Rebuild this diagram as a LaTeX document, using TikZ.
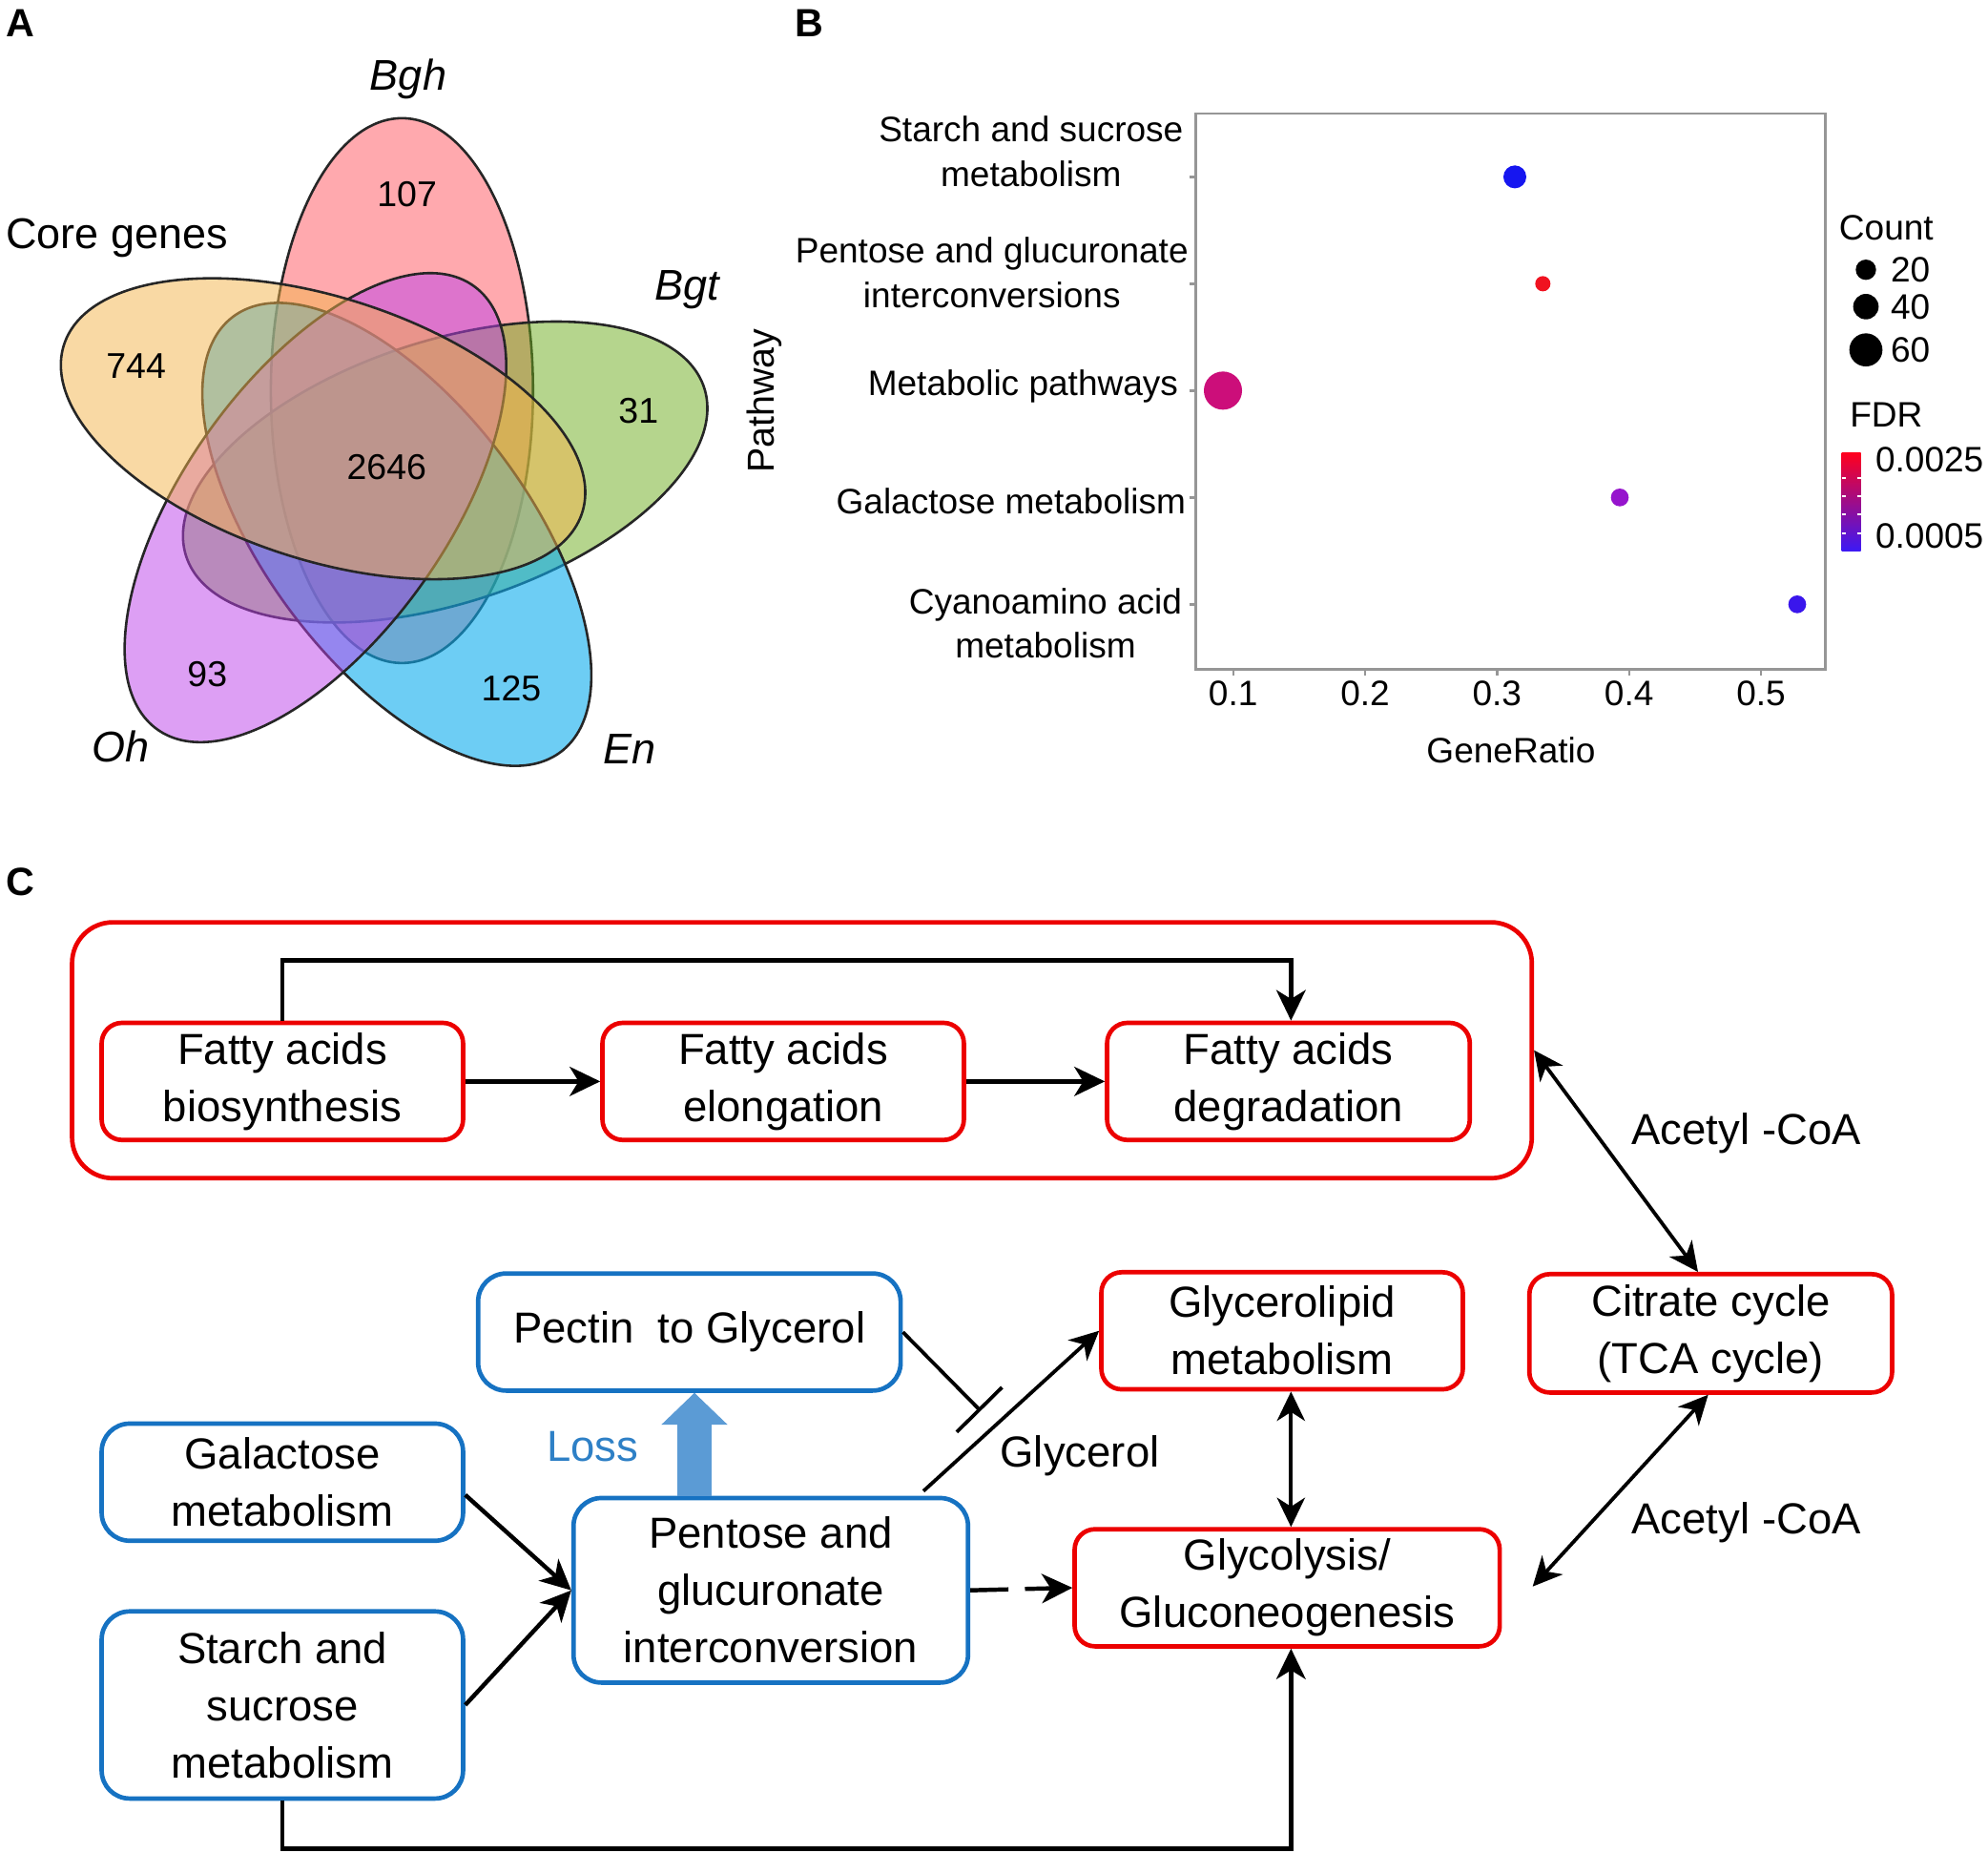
\documentclass[tikz,border=0pt]{standalone}
\usepackage{fontspec}
\setmainfont{Liberation Sans}
\usetikzlibrary{shapes,arrows,positioning,calc,arrows.meta}

\definecolor{boxred}{RGB}{236,0,0}
\definecolor{boxblue}{RGB}{22,114,194}
\definecolor{lossblue}{RGB}{91,155,213}
\definecolor{losstext}{RGB}{46,128,198}
\definecolor{vorange}{RGB}{245,181,75}
\definecolor{vpink}{RGB}{255,85,95}
\definecolor{vgreen}{RGB}{109,173,29}
\definecolor{vblue}{RGB}{13,172,238}
\definecolor{vpurple}{RGB}{189,65,235}
\definecolor{ptblue}{RGB}{22,22,240}
\definecolor{ptred}{RGB}{240,18,32}
\definecolor{ptmagenta}{RGB}{204,14,122}
\definecolor{ptpurple}{RGB}{150,20,205}
\definecolor{ptviolet}{RGB}{58,22,236}
\definecolor{framegray}{RGB}{150,150,150}
\definecolor{fdrtop}{RGB}{255,0,30}
\definecolor{fdrmid}{RGB}{205,0,130}
\definecolor{fdrbot}{RGB}{60,25,245}

\newcommand{\boxfont}{\fontsize{9.7}{12.8}\selectfont}
\newcommand{\plotfont}{\fontsize{7.9}{9.96}\selectfont}
\newcommand{\vennfont}{\fontsize{9.6}{11.5}\selectfont}
\newcommand{\numfont}{\fontsize{8}{9.6}\selectfont}
\newcommand{\panelfont}{\fontsize{8.8}{10}\selectfont\bfseries}

\tikzset{
    panel/.style={font=\panelfont, inner sep=0pt},
    redbox/.style={draw=boxred, line width=1pt, rounded corners=1.6mm, align=center, font=\boxfont, inner sep=0pt},
    bluebox/.style={draw=boxblue, line width=1pt, rounded corners=2.2mm, align=center, font=\boxfont, inner sep=0pt},
    arr/.style={-{Stealth[length=2.4mm, width=2.3mm, inset=0.7mm]}, line width=0.95pt},
    thinarr/.style={-{Stealth[length=2.3mm, width=2.2mm, inset=0.7mm]}, line width=0.8pt},
    dblarr/.style={{Stealth[length=2.3mm, width=2.2mm, inset=0.7mm]}-{Stealth[length=2.3mm, width=2.2mm, inset=0.7mm]}, line width=0.8pt},
    inhib/.style={-{Bar[width=5mm]}, line width=0.8pt},
    lossarr/.style={draw=lossblue, line width=2.7mm, -{Triangle[length=2.5mm, width=5.2mm, line width=0pt]}},
    venn/.style={draw=black!85, line width=0.55pt, fill opacity=0.5},
    vname/.style={font=\vennfont\itshape},
    vnum/.style={font=\numfont},
    plotlab/.style={font=\plotfont, align=center, inner sep=0pt},
    axtick/.style={draw=framegray, line width=0.5pt},
}

\begin{document}
\begin{tikzpicture}[x=0.01cm, y=-0.01cm, node distance=0cm]
    \useasboundingbox (0,0) rectangle (1563,1456);
    \fill[white] (0,0) rectangle (1563,1456);

    % panel letters
    \node[panel] (pa) at (16,18) {A};
    \node[panel] (pb) at (636,18) {B};
    \node[panel] (pc) at (16,693) {C};

    % A: five-set Venn
    \path[venn, fill=vpink, rotate around={-90:(316,307)}] (316,307) ellipse [x radius=2.14cm, y radius=1.03cm];
    \path[venn, fill=vgreen, rotate around={18:(350,371)}] (350,371) ellipse [x radius=2.14cm, y radius=1.03cm];
    \path[venn, fill=vblue, fill opacity=0.6, rotate around={-53:(312,420)}] (312,420) ellipse [x radius=2.14cm, y radius=1.03cm];
    \path[venn, fill=vpurple, rotate around={-125.5:(248,399)}] (248,399) ellipse [x radius=2.14cm, y radius=1.03cm];
    \path[venn, fill=vorange, rotate around={-18:(254,337)}] (254,337) ellipse [x radius=2.14cm, y radius=1.03cm];

    \node[vname] (bgh) at (321,62) {Bgh};
    \node[font=\vennfont] (core) at (92,187) {Core genes};
    \node[vname] (bgt) at (540,228) {Bgt};
    \node[vname] (oh) at (95,587) {Oh};
    \node[vname] (en) at (495,589) {En};

    \node[vnum] (n744) at (107,288) {744};
    \node[vnum] (n107) at (320,153) {107};
    \node[vnum] (n31) at (502,323) {31};
    \node[vnum] (n2646) at (304,367) {2646};
    \node[vnum] (n93) at (163,530) {93};
    \node[vnum] (n125) at (402,541) {125};

    % B: dot plot
    \draw[framegray, line width=0.5pt] (940,89) rectangle (1435,526);
    \foreach \yy in {139,223,307,391,475} {
        \draw[axtick] (935,\yy) -- (940,\yy);
    }
    \foreach \xx in {969.5,1073.25,1177,1280.75,1384.5} {
        \draw[axtick] (\xx,526) -- (\xx,531);
    }

    \node[plotlab, anchor=east] (ystarch) at (931,119) {Starch and sucrose\\metabolism};
    \node[plotlab, anchor=east] (ypentose) at (935,214.5) {Pentose and glucuronate\\interconversions};
    \node[plotlab, anchor=east] (ymetab) at (927,304) {Metabolic pathways};
    \node[plotlab, anchor=east] (ygalac) at (933,394) {Galactose metabolism};
    \node[plotlab, anchor=east] (ycyano) at (930,490) {Cyanoamino acid\\metabolism};

    \node[plotlab] (x1) at (969.5,545) {0.1};
    \node[plotlab] (x2) at (1073.25,545) {0.2};
    \node[plotlab] (x3) at (1177,545) {0.3};
    \node[plotlab] (x4) at (1280.75,545) {0.4};
    \node[plotlab] (x5) at (1384.5,545) {0.5};
    \node[plotlab] (xtitle) at (1188,590) {GeneRatio};
    \node[plotlab, rotate=90, font=\fontsize{8.4}{10}\selectfont] (ytitle) at (601,315) {Pathway};

    \fill[ptblue] (1191,139) circle[radius=0.9mm];
    \fill[ptred] (1213,223) circle[radius=0.6mm];
    \fill[ptmagenta] (961.5,307) circle[radius=1.5mm];
    \fill[ptpurple] (1273.5,391) circle[radius=0.7mm];
    \fill[ptviolet] (1413,475) circle[radius=0.7mm];

    % legend
    \node[plotlab] (count) at (1483,179) {Count};
    \fill[black] (1467,212) circle[radius=0.8mm];
    \fill[black] (1467,241) circle[radius=1.0mm];
    \fill[black] (1467,275) circle[radius=1.3mm];
    \node[plotlab] (c20) at (1502,212) {20};
    \node[plotlab] (c40) at (1502,241) {40};
    \node[plotlab] (c60) at (1502,275) {60};

    \node[plotlab] (fdr) at (1483,326) {FDR};
    \shade[top color=fdrtop, middle color=fdrmid, bottom color=fdrbot] (1448,356) rectangle (1463,433);
    \foreach \yy in {376,390,404.5,419} {
        \draw[white, line width=0.4pt] (1448,\yy) -- (1451,\yy);
        \draw[white, line width=0.4pt] (1460,\yy) -- (1463,\yy);
    }
    \node[plotlab] (f25) at (1517,361) {0.0025};
    \node[plotlab] (f05) at (1517,421) {0.0005};

    % C: pathway scheme
    \node[draw=boxred, line width=1pt, rounded corners=3.2mm, minimum width=11.47cm, minimum height=2.01cm] (fatty) at (630.5,825.5) {};
    \node[redbox, minimum width=2.84cm, minimum height=0.92cm] (fab) at (222,850) {Fatty acids\\biosynthesis};
    \node[redbox, minimum width=2.84cm, minimum height=0.92cm, right=1.06cm of fab] (fae) {Fatty acids\\elongation};
    \node[redbox, minimum width=2.85cm, minimum height=0.92cm, right=1.09cm of fae] (fad) {Fatty acids\\degradation};

    \node[redbox, minimum width=2.84cm, minimum height=0.92cm] (glycerolipid) at (1008,1046) {Glycerolipid\\metabolism};
    \node[redbox, minimum width=2.85cm, minimum height=0.93cm] (citrate) at (1345,1048) {Citrate cycle\\(TCA cycle)};
    \node[redbox, minimum width=3.34cm, minimum height=0.92cm] (glycolysis) at (1012,1248) {Glycolysis/\\Gluconeogenesis};

    \node[bluebox, minimum width=3.32cm, minimum height=0.92cm] (pectin) at (542,1047) {Pectin\ \ to Glycerol};
    \node[bluebox, minimum width=2.84cm, minimum height=0.92cm] (galactose) at (222,1165) {Galactose\\metabolism};
    \node[bluebox, minimum width=2.84cm, minimum height=1.47cm, below=0.52cm of galactose] (starch) {Starch and\\sucrose\\metabolism};
    \node[bluebox, minimum width=3.10cm, minimum height=1.45cm] (pentose) at (606,1250) {Pentose and\\glucuronate\\interconversion};

    \coordinate (ftop) at (1015,755);
    \coordinate (fbot) at (1015,1453);
    \coordinate (gstart) at (726,1172);
    \coordinate (istop) at (771,1109);
    \coordinate (acend) at (1205,1247);
    \coordinate (lossend) at ([xshift=0.4mm]pectin.south);

    \draw[arr] (fab) -- (fae);
    \draw[arr] (fae) -- (fad);
    \draw[arr] (fab.north) |- (ftop) -- (ftop |- fad.north);

    \draw[dblarr] (fatty.east) -- ([xshift=-1mm]citrate.north);
    \draw[dblarr] ([xshift=-0.2mm]citrate.south) -- (acend);
    \draw[dblarr] (glycerolipid.south -| fbot) -- (glycolysis.north -| fbot);

    \draw[arr] ([yshift=-1mm]galactose.east) -- (pentose.west);
    \draw[arr] (starch.east) -- (pentose.west);
    \draw[arr, dash pattern=on 3.0mm off 1.3mm] (pentose.east) -- (glycolysis.west);
    \draw[arr] (starch.south) |- (fbot) -- (fbot |- glycolysis.south);

    \draw[thinarr] (gstart) -- (glycerolipid.west);
    \draw[inhib] (pectin.east) -- (istop);
    \draw[lossarr] (pentose.north -| lossend) -- (lossend);

    \node[font=\boxfont, text=losstext] (loss) at (466,1137) {Loss};
    \node[font=\boxfont] (glycerol) at (849,1144) {Glycerol};
    \node[font=\boxfont] (aceup) at (1373,891) {Acetyl -CoA};
    \node[font=\boxfont] (acelow) at (1373,1197) {Acetyl -CoA};
\end{tikzpicture}
\end{document}
